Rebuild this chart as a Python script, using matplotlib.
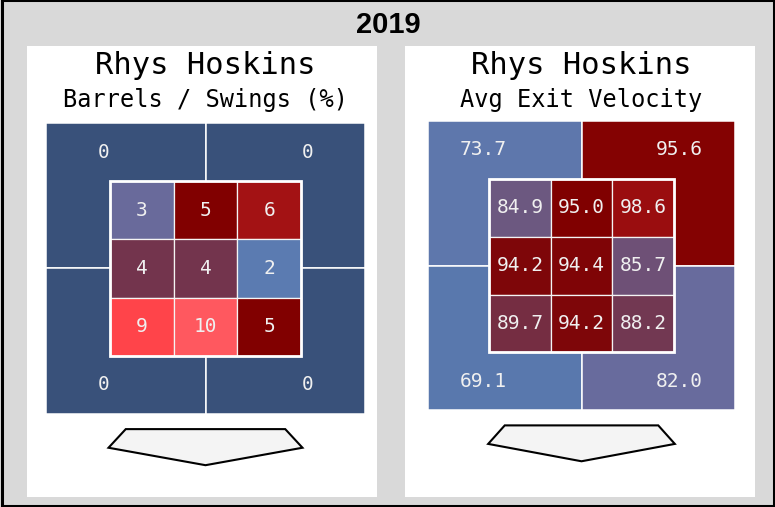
import matplotlib.pyplot as plt
from matplotlib.patches import Rectangle, Polygon
from matplotlib.colors import LinearSegmentedColormap, Normalize

# Chart data
YEAR = "2019"
PLAYER = "Rhys Hoskins"
METRICS = ["Barrels / Swings (%)", "Avg Exit Velocity"]

# 3x3 strike zone, top row first (left -> right)
barrel_inner = [[3, 5, 6],
                [4, 4, 2],
                [9, 10, 5]]
# outer quadrants: top-left, top-right, bottom-left, bottom-right
barrel_outer = [0, 0, 0, 0]

ev_inner = [[84.9, 95.0, 98.6],
            [94.2, 94.4, 85.7],
            [89.7, 94.2, 88.2]]
ev_outer = [73.7, 95.6, 69.1, 82.0]

# Colour scale (value, colour) stops for each panel
ZONE_COLORS = ['#39517a', '#5b7bb1', '#696a9b', '#73344d',
               '#800000', '#a31214', '#ff444a', '#ff585f']
barrel_stops = [0, 2, 3, 4, 5, 6, 9, 10]
ev_stops = [50, 70.5, 83, 88.7, 95.0, 100, 112, 116]

W, H = 775, 507
MONO = 'DejaVu Sans Mono'
TXT = '#f0f0f0'

fig = plt.figure(figsize=(W / 100, H / 100), dpi=100)
fig.patch.set_facecolor('#d9d9d9')


def px_rect(x0, y0, x1, y1):
    # pixel box (top-left origin) -> figure fraction [l, b, w, h]
    return [x0 / W, 1 - y1 / H, (x1 - x0) / W, (y1 - y0) / H]


def make_scale(stops):
    lo, hi = stops[0], stops[-1]
    cmap = LinearSegmentedColormap.from_list(
        'zone', [((v - lo) / (hi - lo), c) for v, c in zip(stops, ZONE_COLORS)])
    return cmap, Normalize(lo, hi)


def draw_zone(ax, inner, outer, stops, fmt):
    cmap, norm = make_scale(stops)
    ax.set_xlim(-2.5, 2.5)
    ax.set_ylim(-3.6, 2.5)
    ax.axis('off')

    corners = [(-2.5, 0), (0, 0), (-2.5, -2.5), (0, -2.5)]
    spots = [(-1.6, 2.0), (1.6, 2.0), (-1.6, -2.0), (1.6, -2.0)]
    for (x, y), (tx, ty), v in zip(corners, spots, outer):
        ax.add_patch(Rectangle((x, y), 2.5, 2.5, facecolor=cmap(norm(v)),
                               edgecolor='white', lw=1.1))
        ax.text(tx, ty, fmt.format(v), ha='center', va='center',
                color=TXT, fontsize=14, family=MONO)

    for r, row in enumerate(inner):
        for c, v in enumerate(row):
            x, y = -1.5 + c, 0.5 - r
            ax.add_patch(Rectangle((x, y), 1, 1, facecolor=cmap(norm(v)),
                                   edgecolor='#f4f4f4', lw=0.9, zorder=3))
            ax.text(x + 0.5, y + 0.5, fmt.format(v), ha='center', va='center',
                    color=TXT, fontsize=14, family=MONO, zorder=4)
    ax.add_patch(Rectangle((-1.5, -1.5), 3, 3, fill=False, edgecolor='white',
                           lw=2.0, zorder=5))

    plate = [(-1.25, -2.76), (1.25, -2.76), (1.52, -3.08),
             (0, -3.38), (-1.52, -3.08)]
    ax.add_patch(Polygon(plate, closed=True, facecolor='#f4f4f4',
                         edgecolor='black', lw=1.5, clip_on=False))


# white panels
for x0, x1 in [(27, 377), (405, 755)]:
    fig.add_artist(Rectangle((x0 / W, 1 - 496.5 / H), (x1 - x0) / W, 451 / H,
                             transform=fig.transFigure, facecolor='white',
                             edgecolor='none', zorder=0))

# outer frame
fig.add_artist(Rectangle((1.5 / W, 1.5 / H), (W - 3) / W, (H - 1) / H,
                         transform=fig.transFigure, fill=False,
                         edgecolor='black', lw=2.2, zorder=10))

fig.text(388 / W, 1 - 33 / H, YEAR, ha='center', va='baseline',
         fontsize=21, fontweight='bold', family='Liberation Sans')

panels = [
    (205.5, (46, 123, 365, 478), barrel_inner, barrel_outer, barrel_stops, '{:.0f}'),
    (581.5, (428, 121, 735, 474), ev_inner, ev_outer, ev_stops, '{:.1f}'),
]
for metric, (cx, box, inner, outer, stops, fmt) in zip(METRICS, panels):
    fig.text(cx / W, 1 - 74 / H, PLAYER, ha='center', va='baseline',
             fontsize=22, family=MONO)
    fig.text(cx / W, 1 - 107 / H, metric, ha='center', va='baseline',
             fontsize=17, family=MONO)
    ax = fig.add_axes(px_rect(*box))
    ax.patch.set_alpha(0)
    draw_zone(ax, inner, outer, stops, fmt)

fig.savefig('out.png', dpi=100, facecolor=fig.get_facecolor())
